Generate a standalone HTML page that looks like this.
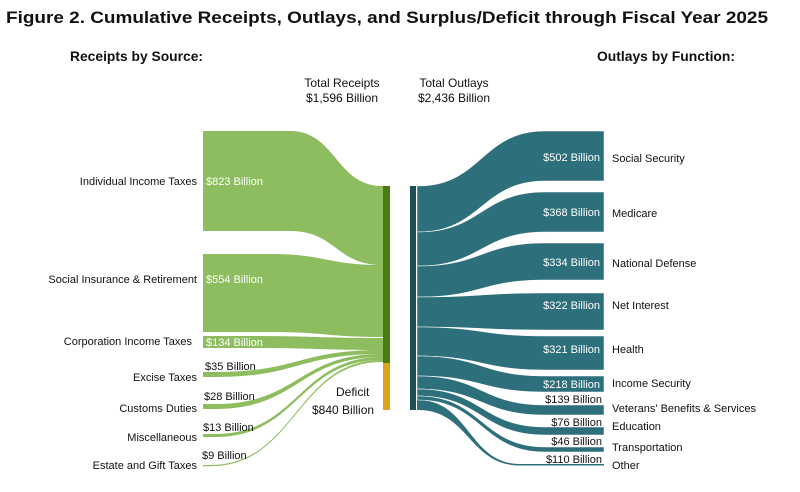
<!DOCTYPE html>
<html><head><meta charset="utf-8"><style>
body{margin:0;background:#fff;width:800px;height:492px;overflow:hidden;font-family:"Liberation Sans",Arial,sans-serif}
svg{display:block}
text{font-family:"Liberation Sans",Arial,sans-serif}
</style></head><body>
<svg id="s" width="800" height="492" viewBox="0 0 800 492">
<text x="6" y="23" font-size="17" font-weight="bold" fill="#111" textLength="762" lengthAdjust="spacingAndGlyphs">Figure 2. Cumulative Receipts, Outlays, and Surplus/Deficit through Fiscal Year 2025</text>
<text x="70" y="61" font-size="14" font-weight="bold" fill="#111" textLength="133" lengthAdjust="spacingAndGlyphs">Receipts by Source:</text>
<text x="597" y="61" font-size="14" font-weight="bold" fill="#111" textLength="138" lengthAdjust="spacingAndGlyphs">Outlays by Function:</text>
<text x="342" y="87" font-size="12" text-anchor="middle" fill="#111">Total Receipts</text>
<text x="342" y="102" font-size="12" text-anchor="middle" fill="#111">$1,596 Billion</text>
<text x="454" y="87" font-size="12" text-anchor="middle" fill="#111">Total Outlays</text>
<text x="454" y="102" font-size="12" text-anchor="middle" fill="#111">$2,436 Billion</text>
<g id="links"></g>
<rect x="383" y="186" width="7" height="177" fill="#4b7a10"/>
<rect x="383" y="363" width="7" height="47" fill="#dda31b"/>
<rect x="410" y="186" width="6" height="224" fill="#1e4f55"/>
<g font-size="11" fill="#111" text-anchor="end">
<text x="197" y="185">Individual Income Taxes</text>
<text x="197" y="283">Social Insurance &amp; Retirement</text>
<text x="192" y="345">Corporation Income Taxes</text>
<text x="197" y="381">Excise Taxes</text>
<text x="197" y="412">Customs Duties</text>
<text x="197" y="441">Miscellaneous</text>
<text x="197" y="469">Estate and Gift Taxes</text>
</g>
<g font-size="11" fill="#fff">
<text x="206" y="185">$823 Billion</text>
<text x="206" y="283">$554 Billion</text>
<text x="206" y="346">$134 Billion</text>
</g>
<g font-size="11" fill="#111">
<text x="205" y="370">$35 Billion</text>
<text x="204" y="400">$28 Billion</text>
<text x="203" y="431">$13 Billion</text>
<text x="202" y="459">$9 Billion</text>
<text x="336" y="396" font-size="12">Deficit</text>
<text x="312" y="414" font-size="12">$840 Billion</text>
</g>
<g font-size="11" fill="#fff" text-anchor="end">
<text x="600" y="161">$502 Billion</text>
<text x="600" y="216">$368 Billion</text>
<text x="600" y="266">$334 Billion</text>
<text x="600" y="309">$322 Billion</text>
<text x="600" y="353">$321 Billion</text>
<text x="600" y="388">$218 Billion</text>
</g>
<g font-size="11" fill="#111" text-anchor="end">
<text x="602" y="403">$139 Billion</text>
<text x="602" y="426">$76 Billion</text>
<text x="602" y="445">$46 Billion</text>
<text x="602" y="463">$110 Billion</text>
</g>
<g font-size="11" fill="#111">
<text x="612" y="162">Social Security</text>
<text x="612" y="217">Medicare</text>
<text x="612" y="267">National Defense</text>
<text x="612" y="309">Net Interest</text>
<text x="612" y="353">Health</text>
<text x="612" y="387">Income Security</text>
<text x="612" y="412">Veterans' Benefits &amp; Services</text>
<text x="612" y="430">Education</text>
<text x="612" y="451">Transportation</text>
<text x="612" y="469">Other</text>
</g>
</svg>
<script>
var g=document.getElementById('links'),NS='http://www.w3.org/2000/svg';
function band(xa,xb,xc,xd,a1,a2,b1,b2,col,st){
 var m=(xb+xc)/2;
 var d='M'+xa+','+a1+'L'+xb+','+a1+'C'+m+','+a1+' '+m+','+b1+' '+xc+','+b1+'L'+xd+','+b1+
 'L'+xd+','+b2+'L'+xc+','+b2+'C'+m+','+b2+' '+m+','+a2+' '+xb+','+a2+'L'+xa+','+a2+'Z';
 var p=document.createElementNS(NS,'path');p.setAttribute('d',d);p.setAttribute('fill',col);
 if(st){p.setAttribute('stroke','#fff');p.setAttribute('stroke-width','0.5');}
 g.appendChild(p);
}
var G='#8dbd5e';
var L=[[131,231,186,265,290],[254,332,265,337,270],[336,348,338,350,250],[372,377,350,354,215],[404,409,354,357,215],[434,437,357,360,215],[465,466.2,360,362,210]];
L.forEach(function(r){band(203,r[4],382,383,r[0],r[1],r[2],r[3],G)});
var T='#2d6f7b';
band(417,418,520,604,400,410,464,465.5,T);
var R=[[186,232,131,181],[232,266,192,232],[266,297,243,280],[297,327,293,330],[327,356,336,370],[356,376,376,392],[376,389,405,415],[389,396,427,435],[396,400,447,452]];
R.forEach(function(r){band(417,418,545,604,r[0],r[1],r[2],r[3],T,1)});
</script>
</body></html>
